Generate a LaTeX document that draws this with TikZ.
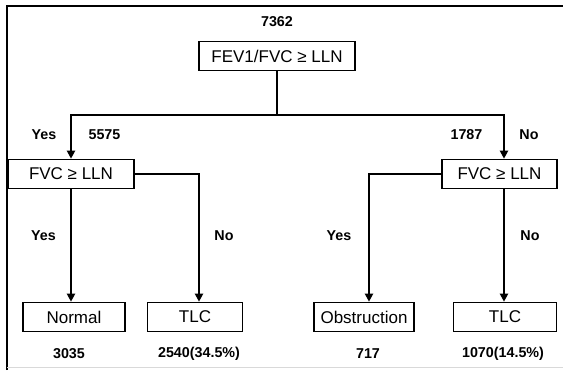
\documentclass[tikz,border=0pt]{standalone}
\usepackage{fontspec}
\setmainfont{Liberation Sans}
\usetikzlibrary{arrows.meta,positioning}

\begin{document}
\begin{tikzpicture}[x=1pt,y=-1pt,>={Triangle[width=8pt,length=8pt]},
  box/.style={draw,line width=1.6pt,minimum height=29pt,inner sep=0pt,font=\fontsize{17}{19}\selectfont},
  lbl/.style={font=\bfseries\fontsize{14.3}{16}\selectfont},
  link/.style={line width=2.6pt}]
\useasboundingbox (0,0) rectangle (563,370);
% frame
\draw[line width=1.4pt] (7,370) -- (7,6) -- (563,6);
\draw[black!15,line width=1pt] (7,367.5) -- (563,367.5);
% boxes
\node[box,minimum width=156pt] (root) at (277,56) {FEV1/FVC ≥ LLN};
\node[box,minimum width=126pt] (left) at (71,174) {FVC ≥ LLN};
\node[box,minimum width=115pt] (right) at (499.5,174) {FVC ≥ LLN};
\node[box,minimum width=102pt] (normal) at (74,317) {Normal};
\node[box,minimum width=95pt] (tlcA) at (195,317) {TLC};
\node[box,minimum width=100pt] (obstr) at (364,317) {Obstruction};
\node[box,minimum width=103pt] (tlcB) at (505,317) {TLC};
% counts and answers
\node[lbl] (nAll) at (277,21.5) {7362};
\node[lbl] (yesL) at (44,134.5) {Yes};
\node[lbl] (nLeft) at (104.5,134.5) {5575};
\node[lbl] (nRight) at (466.5,134.5) {1787};
\node[lbl] (noR) at (529,134.5) {No};
\node[lbl] (yesA) at (43.5,236) {Yes};
\node[lbl] (noA) at (224,236) {No};
\node[lbl] (yesB) at (339,236) {Yes};
\node[lbl] (noB) at (530,236) {No};
\node[lbl] (nNormal) at (69,353.5) {3035};
\node[lbl] (nTlcA) at (199,353.5) {2540(34.5\%)};
\node[lbl] (nObstr) at (368,353.5) {717};
\node[lbl] (nTlcB) at (503,353.5) {1070(14.5\%)};
% connectors
\coordinate (split) at (277,115);
\draw[link] (root) -- (split);
\draw[link,->] (split) -| (left.north);
\draw[link,->] (split) -| ([xshift=4.5pt]right.north);
\draw[link,->] (left.south) -- (left.south |- normal.north);
\draw[link,->] (left.east) -| ([xshift=4pt]tlcA.north);
\draw[link,->] (right.west) -| ([xshift=5pt]obstr.north);
\draw[link,->] ([xshift=4.5pt]right.south) -- ([xshift=4.5pt]right.south |- tlcB.north);
\end{tikzpicture}
\end{document}
